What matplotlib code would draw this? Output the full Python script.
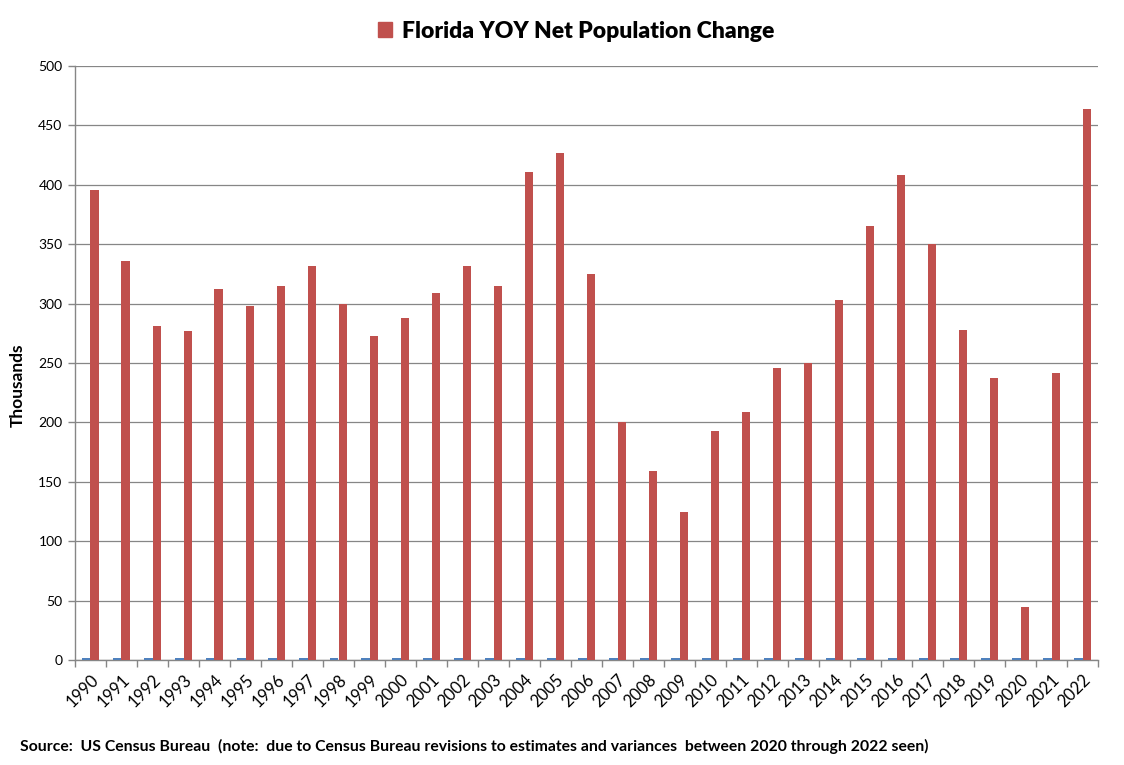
import numpy as np
import matplotlib.pyplot as plt
from matplotlib.patches import Patch

# data (thousands)
years = [str(y) for y in range(1990, 2023)]
net_change = [396, 336, 281, 277, 312, 298, 315, 332, 300, 273,
              288, 309, 332, 315, 411, 427, 325, 200, 159, 125,
              193, 209, 246, 250, 303, 365, 408, 350, 278, 237,
              45, 242, 464]
# tiny helper series plotted next to each bar (year / 1000)
year_series = [1.990, 1.991, 1.992, 1.993, 1.994, 1.995, 1.996, 1.997, 1.998, 1.999,
               2.000, 2.001, 2.002, 2.003, 2.004, 2.005, 2.006, 2.007, 2.008, 2.009,
               2.010, 2.011, 2.012, 2.013, 2.014, 2.015, 2.016, 2.017, 2.018, 2.019,
               2.020, 2.021, 2.022]
y_ticks = [0, 50, 100, 150, 200, 250, 300, 350, 400, 450, 500]

plt.rcParams['font.family'] = ['Lato', 'DejaVu Sans']

red = "#c0504d"
blue = "#4f81bd"
grey = "#868686"

fig = plt.figure(figsize=(11.24, 7.65), dpi=100)
ax = fig.add_axes([75 / 1124, 105 / 765, 1023 / 1124, 594 / 765])

x = np.arange(len(years))
bw = 0.29
ax.bar(x - bw / 2, year_series, width=bw, color=blue, zorder=3)
bars = ax.bar(x + bw / 2, net_change, width=bw, color=red, zorder=3)

ax.set_xlim(-0.5, len(years) - 0.5)
ax.set_ylim(0, 500)
ax.set_yticks(y_ticks)
ax.set_yticklabels([str(v) for v in y_ticks], fontsize=10)
ax.yaxis.grid(True, color=grey, linewidth=0.9, zorder=0)

# category ticks sit between bars
ax.set_xticks(np.arange(len(years) + 1) - 0.5, minor=True)
ax.set_xticks(x)
ax.set_xticklabels(years, rotation=45, ha='right', va='top',
                   rotation_mode='anchor', fontsize=12)
ax.tick_params(axis='x', which='major', length=0, pad=8)
ax.tick_params(axis='x', which='minor', length=5, color=grey, width=1)
ax.tick_params(axis='y', length=5, color=grey, width=1, pad=4)

for side in ['top', 'right']:
    ax.spines[side].set_visible(False)
for side in ['left', 'bottom']:
    ax.spines[side].set_color(grey)
    ax.spines[side].set_linewidth(1)

ax.set_ylabel('Thousands', fontsize=12.5, fontweight='bold')
ax.yaxis.set_label_coords(-49 / 1023, 0.463)

fig.legend(handles=[Patch(color=red)], labels=['Florida YOY Net Population Change'],
           loc='center', bbox_to_anchor=(576 / 1124, 1 - 31 / 765), frameon=False,
           handlelength=0.6, handleheight=0.6, handletextpad=0.45,
           prop={'weight': 'heavy', 'size': 16.5})

fig.text(20 / 1124, 1 - 746 / 765,
         'Source:  US Census Bureau  (note:  due to Census Bureau revisions to estimates '
         'and variances  between 2020 through 2022 seen)',
         fontsize=11.3, fontweight='bold', va='center', ha='left')

fig.savefig('out.png', dpi=100)
